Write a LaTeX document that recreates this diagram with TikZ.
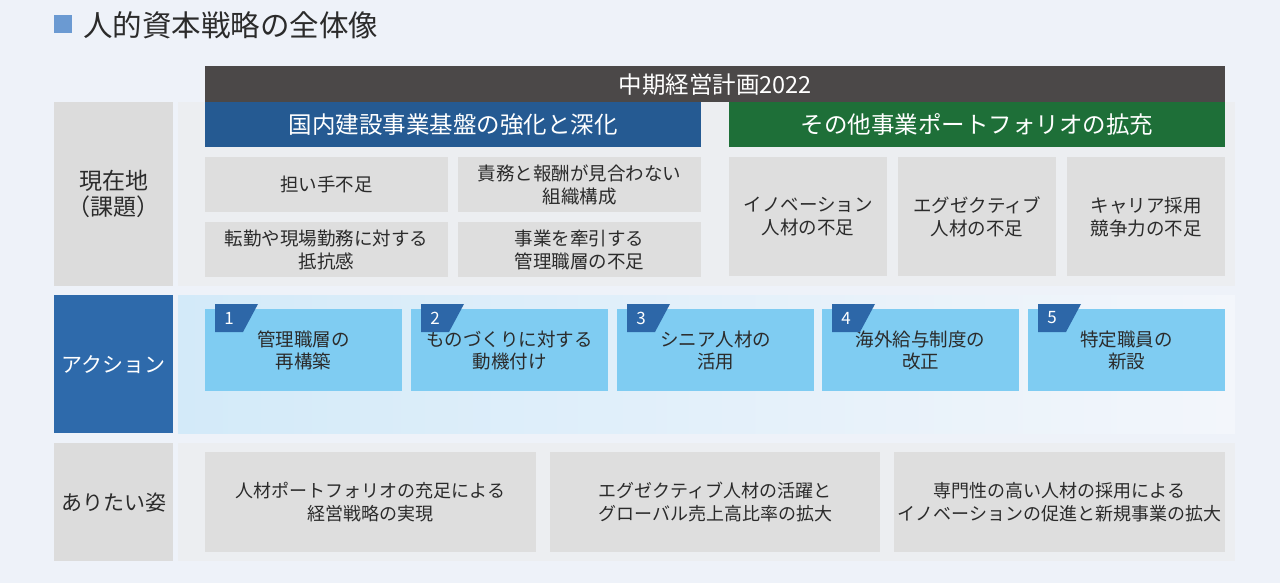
\documentclass[tikz,border=0pt]{standalone}
\usepackage{fontspec}
\setmainfont{Noto Sans CJK JP}
\definecolor{pageBg}{HTML}{EEF2F9}
\definecolor{titleBlue}{HTML}{6B9AD2}
\definecolor{barDark}{HTML}{4B4848}
\definecolor{headBlue}{HTML}{255A92}
\definecolor{headGreen}{HTML}{1E6F38}
\definecolor{cellGray}{HTML}{DEDEDE}
\definecolor{labelGray}{HTML}{DCDCDC}
\definecolor{panelGray}{HTML}{ECEEF1}
\definecolor{panelBlue}{HTML}{D3EAF9}
\definecolor{actLabel}{HTML}{2E6AAB}
\definecolor{actBlue}{HTML}{7FCCF2}
\definecolor{tagBlue}{HTML}{2D67A8}
\definecolor{textDark}{HTML}{2B2B2B}
\begin{document}
\begin{tikzpicture}[x=1pt, y=-1pt,
  cellBox/.style={fill=cellGray, anchor=north west, inner sep=0pt, align=center, text=textDark, font=\fontsize{18.5}{23}\selectfont},
  sideLabel/.style={fill=labelGray, anchor=north west, inner sep=0pt, minimum width=119pt, align=center, text=textDark, font=\fontsize{23}{26}\selectfont},
  headBar/.style={anchor=north west, inner sep=0pt, minimum width=496pt, minimum height=45pt, text=white, font=\fontsize{23.5}{26}\selectfont},
  actionBox/.style={fill=actBlue, anchor=north west, inner sep=0pt, minimum width=197pt, minimum height=82pt, align=center, text=textDark, font=\fontsize{18.5}{22}\selectfont},
  tagNum/.style={text=white, inner sep=0pt, font=\fontsize{17}{17}\selectfont},
  goalBox/.style={fill=cellGray, anchor=north west, inner sep=0pt, minimum height=100pt, align=center, text=textDark, font=\fontsize{18}{23}\selectfont}
]
\useasboundingbox (0,0) rectangle (1280,583);
\fill[pageBg] (0,0) rectangle (1280,583);

% title
\node[fill=titleBlue, anchor=north west, minimum size=18pt, inner sep=0pt] (titleMark) at (54,15) {};
\node[anchor=west, inner sep=0pt, text=textDark, font=\fontsize{29.5}{32}\selectfont] (title) at (83,25) {人的資本戦略の全体像};

% row panels
\fill[panelGray] (178,102) rectangle (1235,286);
\shade[left color=panelBlue, right color=pageBg!70!white] (178,295) rectangle (1235,433);
\fill[panelGray] (178,443) rectangle (1235,561);

% plan bar and headers
\node[fill=barDark, anchor=north west, inner sep=0pt, minimum width=1020pt, minimum height=36pt, text=white, font=\fontsize{23.5}{26}\selectfont] (plan) at (205,66) {中期経営計画2022};
\node[headBar, fill=headBlue] (domestic) at (205,102) {国内建設事業基盤の強化と深化};
\node[headBar, fill=headGreen] (others) at (729,102) {その他事業ポートフォリオの拡充};

% row labels
\node[sideLabel, minimum height=184pt] (lblNow) at (54,102) {現在地\\（課題）};
\node[sideLabel, minimum height=138pt, fill=actLabel, text=white, font=\fontsize{21}{24}\selectfont] (lblAct) at (54,295) {アクション};
\node[sideLabel, minimum height=118pt, font=\fontsize{21}{24}\selectfont] (lblGoal) at (54,443) {ありたい姿};

% current issues
\node[cellBox, minimum width=243pt, minimum height=55pt] (iss1) at (205,157) {担い手不足};
\node[cellBox, minimum width=243pt, minimum height=55pt] (iss2) at (458,157) {責務と報酬が見合わない\\組織構成};
\node[cellBox, minimum width=243pt, minimum height=55pt] (iss3) at (205,222) {転勤や現場勤務に対する\\抵抗感};
\node[cellBox, minimum width=243pt, minimum height=55pt] (iss4) at (458,222) {事業を牽引する\\管理職層の不足};
\node[cellBox, minimum width=158pt, minimum height=119pt] (iss5) at (729,157) {イノベーション\\人材の不足};
\node[cellBox, minimum width=158pt, minimum height=119pt] (iss6) at (898,157) {エグゼクティブ\\人材の不足};
\node[cellBox, minimum width=158pt, minimum height=119pt] (iss7) at (1067,157) {キャリア採用\\競争力の不足};

% actions
\node[actionBox] (act1) at (205,309) {管理職層の\\再構築};
\node[actionBox] (act2) at (411,309) {ものづくりに対する\\動機付け};
\node[actionBox] (act3) at (617,309) {シニア人材の\\活用};
\node[actionBox] (act4) at (822,309) {海外給与制度の\\改正};
\node[actionBox] (act5) at (1028,309) {特定職員の\\新設};

% number tags
\fill[tagBlue] (215,304) -- (258,304) -- (243,332) -- (215,332) -- cycle;
\node[tagNum] (tag1) at (229,318) {1};
\fill[tagBlue] (421,304) -- (464,304) -- (449,332) -- (421,332) -- cycle;
\node[tagNum] (tag2) at (435,318) {2};
\fill[tagBlue] (627,304) -- (670,304) -- (655,332) -- (627,332) -- cycle;
\node[tagNum] (tag3) at (641,318) {3};
\fill[tagBlue] (832,304) -- (875,304) -- (860,332) -- (832,332) -- cycle;
\node[tagNum] (tag4) at (846,318) {4};
\fill[tagBlue] (1038,304) -- (1081,304) -- (1066,332) -- (1038,332) -- cycle;
\node[tagNum] (tag5) at (1052,318) {5};

% goals
\node[goalBox, minimum width=331pt] (goal1) at (205,452) {人材ポートフォリオの充足による\\経営戦略の実現};
\node[goalBox, minimum width=330pt] (goal2) at (550,452) {エグゼクティブ人材の活躍と\\グローバル売上高比率の拡大};
\node[goalBox, minimum width=331pt] (goal3) at (894,452) {専門性の高い人材の採用による\\イノベーションの促進と新規事業の拡大};
\end{tikzpicture}
\end{document}
